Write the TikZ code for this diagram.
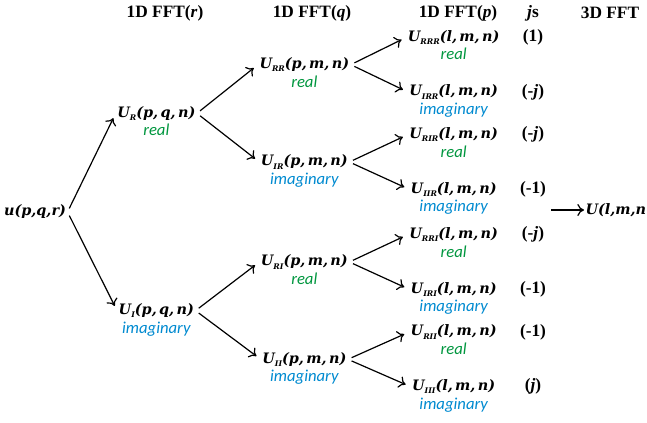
\documentclass[tikz,border=0pt]{standalone}
\usepackage{fontspec}
\setmainfont{Liberation Serif}
\newfontfamily\labfont{Carlito}
\newfontfamily\fmlfont{DejaVu Serif}
\usetikzlibrary{arrows.meta}

\definecolor{realgreen}{RGB}{0,150,62}
\definecolor{imagblue}{RGB}{0,138,208}

% U su indeksu ir argumentais
\newcommand{\Uv}[2]{\textbf{\textit{U\raisebox{-0.45ex}{\fontsize{5.8}{6}\selectfont #1}(#2)}}}

\begin{document}
\begin{tikzpicture}[
  x=0.75pt, y=-0.75pt,
  % Medžio kryptis ir atstumai
  grow'=right,
  level 1/.style={level distance=91pt, sibling distance=148pt},
  level 2/.style={level distance=111pt, sibling distance=73pt},
  level 3/.style={level distance=112pt, sibling distance=41pt},
  label distance=1.5pt,
  % Bendras mazgų stilius
  every node/.style={inner sep=1pt, font=\fmlfont\fontsize{10.8}{13}\selectfont},
  link/.style={-{To[length=5pt, width=9pt]}, line width=0.9pt},
  edge from parent/.style={draw, link, shorten <=3pt, shorten >=4pt},
  edge from parent path={(\tikzparentnode.east) -- (\tikzchildnode.west)},
  % Antraštės ir žymės
  head/.style={font=\rmfamily\fontsize{13}{15}\selectfont\bfseries},
  tag/.style={inner sep=0pt, font=\labfont\itshape\fontsize{12.5}{14}\selectfont},
  realtag/.style={label={[tag, text=realgreen]below:real}},
  imagtag/.style={label={[tag, text=imagblue]below:imaginary}},
  sign/.style={font=\rmfamily\fontsize{13}{15}\selectfont\bfseries}
]
  \useasboundingbox (0,0) rectangle (647,423);

  % Antraštės
  \node[head] (hr) at (165,13) {1D FFT(\textit{r})};
  \node[head] (hq) at (312,13) {1D FFT(\textit{q})};
  \node[head] (hp) at (458,13) {1D FFT(\textit{p})};
  \node[head] (hjs) at (533,13) {\textit{j}s};
  \node[head] (h3d) at (610,13) {3D FFT};

  % Medžio braižymas
  \node (u) at (35,212) {\textbf{\textit{u(p,q,r)}}}
    child {node[realtag] (ur) {\Uv{R}{p,\,q,\,n}}
      child {node[realtag] (urr) {\Uv{RR}{p,\,m,\,n}}
        child {node[realtag] (urrr) {\Uv{RRR}{l,\,m,\,n}}}
        child {node[imagtag] (uirr) {\Uv{IRR}{l,\,m,\,n}}}
      }
      child {node[imagtag] (uir) {\Uv{IR}{p,\,m,\,n}}
        child {node[realtag] (urir) {\Uv{RIR}{l,\,m,\,n}}}
        child {node[imagtag] (uiir) {\Uv{IIR}{l,\,m,\,n}}}
      }
    }
    child {node[imagtag] (ui) {\Uv{I}{p,\,q,\,n}}
      child {node[realtag] (uri) {\Uv{RI}{p,\,m,\,n}}
        child {node[realtag] (urri) {\Uv{RRI}{l,\,m,\,n}}}
        child {node[imagtag] (uiri) {\Uv{IRI}{l,\,m,\,n}}}
      }
      child {node[imagtag] (uii) {\Uv{II}{p,\,m,\,n}}
        child {node[realtag] (urii) {\Uv{RII}{l,\,m,\,n}}}
        child {node[imagtag] (uiii) {\Uv{III}{l,\,m,\,n}}}
      }
    };

  % Daugikliai
  \node[sign] (s1) at (hjs |- urrr) {(1)};
  \node[sign] (s2) at (hjs |- uirr) {(-\textit{j})};
  \node[sign] (s3) at (hjs |- urir) {(-\textit{j})};
  \node[sign] (s4) at (hjs |- uiir) {(-1)};
  \node[sign] (s5) at (hjs |- urri) {(-\textit{j})};
  \node[sign] (s6) at (hjs |- uiri) {(-1)};
  \node[sign] (s7) at (hjs |- urii) {(-1)};
  \node[sign] (s8) at (hjs |- uiii) {(\textit{j})};

  % 3D rezultatas
  \coordinate (a0) at (551,210);
  \node[anchor=west] (uout) at (584,210) {\textbf{\textit{U(l,m,n}}};
  \draw[link] (a0) -- (uout);
\end{tikzpicture}
\end{document}
